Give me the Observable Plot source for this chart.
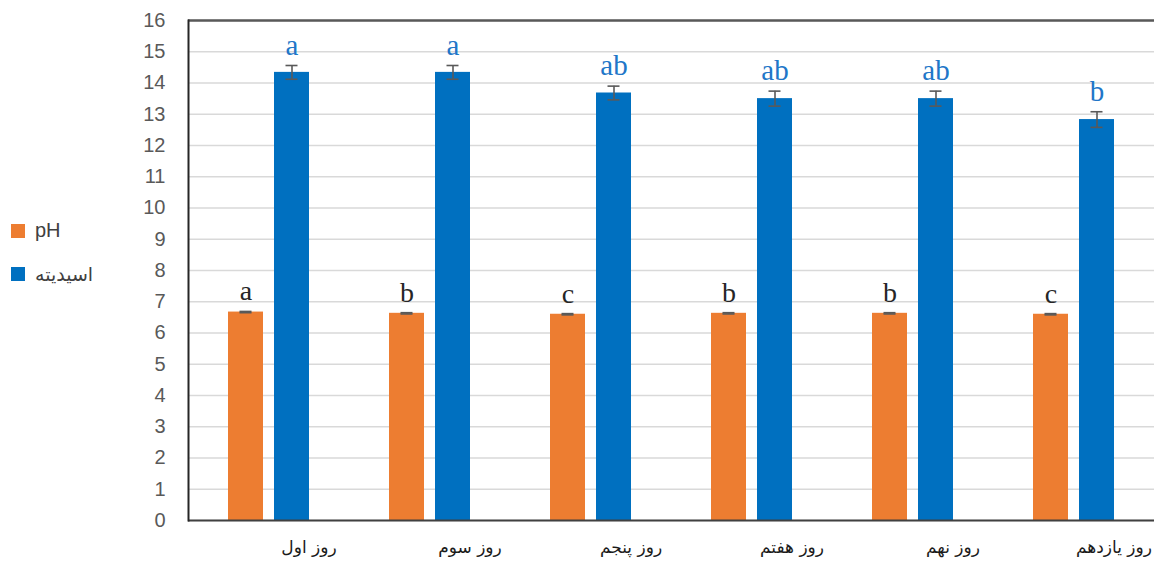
<!DOCTYPE html>
<html>
<head>
<meta charset="utf-8">
<script src="https://cdn.jsdelivr.net/npm/d3@7"></script>
<script src="https://cdn.jsdelivr.net/npm/@observablehq/plot@0.6"></script>
<style>
  html, body { margin: 0; padding: 0; background: #fff; }
  #wrap { position: relative; width: 1156px; height: 568px; }
  .leg { position: absolute; left: 11px; display: flex; align-items: center; gap: 10px; color: #404040; }
  .sw { width: 14px; height: 14px; display: inline-block; }
</style>
</head>
<body>
<div id="wrap">
  <div class="leg" style="top:219px;font-family:'Liberation Sans',sans-serif;font-size:20px;"><span class="sw" style="background:#ED7D31"></span><span>pH</span></div>
  <div class="leg" style="top:263px;font-family:'DejaVu Sans',sans-serif;font-size:19px;"><span class="sw" style="background:#0070C0"></span><span>اسیدیته</span></div>
</div>
<script>
const days = ["روز اول", "روز سوم", "روز پنجم", "روز هفتم", "روز نهم", "روز یازدهم"];
const seriesNames = ["pH", "اسیدیته"];
const phValues = [6.67, 6.63, 6.60, 6.63, 6.63, 6.60];
const phErrors = [0.02, 0.02, 0.02, 0.02, 0.02, 0.02];
const phLetters = ["a", "b", "c", "b", "b", "c"];
const acidValues = [14.34, 14.34, 13.68, 13.50, 13.50, 12.83];
const acidErrors = [0.22, 0.22, 0.22, 0.24, 0.24, 0.25];
const acidLetters = ["a", "a", "ab", "ab", "ab", "b"];
const yTicks = d3.range(0, 17);

const rows = [];
days.forEach((day, i) => {
  rows.push({day, series: seriesNames[0], value: phValues[i], err: phErrors[i], letter: phLetters[i]});
  rows.push({day, series: seriesNames[1], value: acidValues[i], err: acidErrors[i], letter: acidLetters[i]});
});
const lo = d => d.value - d.err;
const hi = d => d.value + d.err;

const chart = Plot.plot({
  width: 1156,
  height: 568,
  marginLeft: 185,
  marginRight: 0,
  marginTop: 20,
  marginBottom: 48,
  style: {background: "#fff", color: "#595959", overflow: "visible"},
  fx: {domain: days, padding: 0, axis: null},
  x: {domain: seriesNames, paddingInner: 0.234, paddingOuter: 0.838, axis: null},
  y: {domain: [0, 16], axis: null},
  color: {domain: seriesNames, range: ["#ED7D31", "#0070C0"]},
  marks: [
    Plot.gridY(yTicks, {stroke: "#d9d9d9", strokeOpacity: 1, strokeWidth: 1.5}),
    Plot.ruleY([16], {stroke: "#595959", strokeWidth: 2.5}),
    Plot.barY(rows, {fx: "day", x: "series", y: "value", fill: "series"}),
    Plot.ruleY([0], {stroke: "#404040", strokeWidth: 2}),
    Plot.ruleX(rows, {fx: "day", x: "series", y1: lo, y2: hi, stroke: "#595959", strokeWidth: 1.6}),
    Plot.tickY(rows, {fx: "day", x: "series", y: lo, insetLeft: 11.5, insetRight: 11.5, stroke: "#595959", strokeWidth: 1.6}),
    Plot.tickY(rows, {fx: "day", x: "series", y: hi, insetLeft: 11.5, insetRight: 11.5, stroke: "#595959", strokeWidth: 1.6}),
    Plot.text(rows.filter(d => d.series === seriesNames[0]), {fx: "day", x: "series", y: hi, text: "letter", dy: -11, lineAnchor: "bottom", fill: "#262626", fontSize: 28, fontFamily: "Liberation Serif"}),
    Plot.text(rows.filter(d => d.series === seriesNames[1]), {fx: "day", x: "series", y: hi, text: "letter", dy: -11, lineAnchor: "bottom", fill: "#2176C8", fontSize: 29, fontFamily: "Liberation Serif"}),
    Plot.axisY(yTicks, {anchor: "left", tickSize: 0, tickPadding: 23, fontSize: 20, fontFamily: "Liberation Sans", label: null, fill: "#595959"}),
    Plot.axisFx({anchor: "bottom", tickSize: 0, tickPadding: 20, fontSize: 17, fontFamily: "DejaVu Sans", label: null, fill: "#1a1a1a", dx: 40}),
    Plot.frame({anchor: "left", facetAnchor: "left", stroke: "#262626", strokeWidth: 2})
  ]
});
document.getElementById("wrap").prepend(chart);
chart.style.position = "absolute";
chart.style.left = "0";
chart.style.top = "0";
</script>
</body>
</html>
